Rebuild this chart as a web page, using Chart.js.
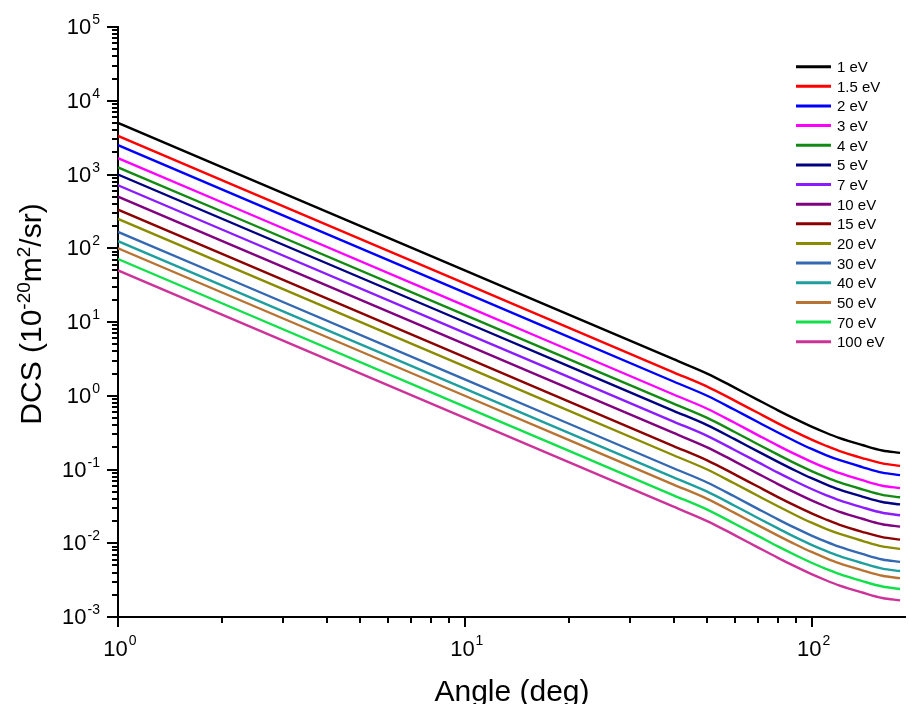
<!DOCTYPE html>
<html>
<head>
<meta charset="utf-8">
<title>DCS vs angle</title>
<script src="https://cdn.jsdelivr.net/npm/chart.js@4.4.1/dist/chart.umd.min.js"></script>
<style>
  html, body { margin: 0; padding: 0; background: #fff; overflow: hidden; }
  canvas { display: block; }
</style>
</head>
<body>
<canvas id="c" width="909" height="704"></canvas>
<script>
'use strict';

/* Scattering angles (deg) where the curves were read */
const angles = [1, 10, 40, 50, 60, 70, 80, 90, 100, 110, 120, 140, 160, 180];

/* DCS values (10^-20 m^2/sr), one list per impact energy */
const dcs1   = [5000, 50, 3.13, 2.0, 1.29, 0.88, 0.634, 0.481, 0.381, 0.315, 0.269, 0.215, 0.181, 0.168];
const dcs1_5 = [3330, 33.3, 2.08, 1.33, 0.86, 0.587, 0.423, 0.321, 0.254, 0.21, 0.179, 0.143, 0.121, 0.112];
const dcs2   = [2500, 25, 1.56, 1.0, 0.645, 0.44, 0.317, 0.24, 0.19, 0.157, 0.135, 0.108, 0.0905, 0.084];
const dcs3   = [1670, 16.7, 1.04, 0.667, 0.43, 0.293, 0.211, 0.16, 0.127, 0.105, 0.0897, 0.0717, 0.0603, 0.056];
const dcs4   = [1250, 12.5, 0.78, 0.5, 0.323, 0.22, 0.159, 0.12, 0.0953, 0.0788, 0.0673, 0.0538, 0.0453, 0.042];
const dcs5   = [1000, 10, 0.625, 0.4, 0.258, 0.176, 0.127, 0.0962, 0.0762, 0.063, 0.0538, 0.043, 0.0362, 0.0336];
const dcs7   = [714, 7.14, 0.447, 0.286, 0.184, 0.126, 0.0906, 0.0687, 0.0544, 0.045, 0.0384, 0.0307, 0.0259, 0.024];
const dcs10  = [500, 5, 0.313, 0.2, 0.129, 0.088, 0.0634, 0.0481, 0.0381, 0.0315, 0.0269, 0.0215, 0.0181, 0.0168];
const dcs15  = [333, 3.33, 0.208, 0.133, 0.086, 0.0587, 0.0423, 0.0321, 0.0254, 0.021, 0.0179, 0.0143, 0.0121, 0.0112];
const dcs20  = [250, 2.5, 0.156, 0.1, 0.0645, 0.044, 0.0317, 0.024, 0.019, 0.0157, 0.0135, 0.0108, 0.00905, 0.0084];
const dcs30  = [167, 1.67, 0.104, 0.0667, 0.043, 0.0293, 0.0211, 0.016, 0.0127, 0.0105, 0.00897, 0.00717, 0.00603, 0.0056];
const dcs40  = [125, 1.25, 0.078, 0.05, 0.0323, 0.022, 0.0159, 0.012, 0.00953, 0.00788, 0.00673, 0.00538, 0.00453, 0.0042];
const dcs50  = [100, 1.0, 0.0625, 0.04, 0.0258, 0.0176, 0.0127, 0.00962, 0.00762, 0.0063, 0.00538, 0.0043, 0.00362, 0.00336];
const dcs70  = [71.4, 0.714, 0.0447, 0.0286, 0.0184, 0.0126, 0.00906, 0.00687, 0.00544, 0.0045, 0.00384, 0.00307, 0.00259, 0.0024];
const dcs100 = [50, 0.5, 0.0313, 0.02, 0.0129, 0.0088, 0.00634, 0.00481, 0.00381, 0.00315, 0.00269, 0.00215, 0.00181, 0.00168];

const energyLabels = ['1 eV', '1.5 eV', '2 eV', '3 eV', '4 eV', '5 eV', '7 eV', '10 eV',
                      '15 eV', '20 eV', '30 eV', '40 eV', '50 eV', '70 eV', '100 eV'];
const energySeries = [dcs1, dcs1_5, dcs2, dcs3, dcs4, dcs5, dcs7, dcs10,
                      dcs15, dcs20, dcs30, dcs40, dcs50, dcs70, dcs100];

/* Tick labels: exponents of 10 */
const xTickExps = [0, 1, 2];
const yTickExps = [-3, -2, -1, 0, 1, 2, 3, 4, 5];

/* Line colours (Origin-like palette) */
const COLORS = ['#000000', '#ff0000', '#0000ff', '#ff00ff', '#138a13', '#000080', '#8a1cff', '#800080',
                '#8b0000', '#8b8b00', '#3468b0', '#1f9e9e', '#b87333', '#12e04a', '#cc3399'];

const FONT = '"Liberation Sans", Arial, sans-serif';

/* "10" with a raised exponent */
function drawPow(ctx, exp, x, y, align, size, supSize, raise) {
  ctx.font = `${size}px ${FONT}`;
  const w1 = ctx.measureText('10').width;
  ctx.font = `${supSize}px ${FONT}`;
  const w2 = ctx.measureText(String(exp)).width;
  const total = w1 + 1 + w2;
  const x0 = align === 'right' ? x - total : x - total / 2;
  ctx.textAlign = 'left';
  ctx.textBaseline = 'alphabetic';
  ctx.font = `${size}px ${FONT}`;
  ctx.fillText('10', x0, y);
  ctx.font = `${supSize}px ${FONT}`;
  ctx.fillText(String(exp), x0 + w1 + 1, y - raise);
}

/* Text made of normal / superscript pieces, centred on 0 */
function drawRich(ctx, parts, size, supSize, raise) {
  let total = 0;
  parts.forEach(p => {
    ctx.font = `${p.sup ? supSize : size}px ${FONT}`;
    p.w = ctx.measureText(p.t).width;
    total += p.w;
  });
  let x = -total / 2;
  ctx.textAlign = 'left';
  ctx.textBaseline = 'alphabetic';
  parts.forEach(p => {
    ctx.font = `${p.sup ? supSize : size}px ${FONT}`;
    ctx.fillText(p.t, x, p.sup ? -raise : 0);
    x += p.w;
  });
}

/* Log ticks, tick labels, axis titles and legend */
const decorPlugin = {
  id: 'decor',
  afterDraw(chart) {
    const { ctx, chartArea: a, scales: { x, y } } = chart;
    ctx.save();
    ctx.strokeStyle = '#000';
    ctx.fillStyle = '#000';
    ctx.lineWidth = 2;

    /* y ticks (outside, left) */
    ctx.beginPath();
    for (let e = yTickExps[0]; e <= yTickExps[yTickExps.length - 1]; e++) {
      for (let m = 1; m <= 9; m++) {
        if (e === yTickExps[yTickExps.length - 1] && m > 1) break;
        const py = Math.round(y.getPixelForValue(m * Math.pow(10, e)));
        const len = m === 1 ? 11 : 6;
        ctx.moveTo(a.left - len, py);
        ctx.lineTo(a.left, py);
      }
    }
    /* x ticks (outside, down) */
    for (let e = xTickExps[0]; e <= xTickExps[xTickExps.length - 1]; e++) {
      for (let m = 1; m <= 9; m++) {
        const v = m * Math.pow(10, e);
        if (v > x.max) break;
        const px = Math.round(x.getPixelForValue(v));
        const len = m === 1 ? 10 : 6;
        ctx.moveTo(px, a.bottom);
        ctx.lineTo(px, a.bottom + len);
      }
    }
    ctx.stroke();

    /* tick labels */
    yTickExps.forEach(e => {
      const py = y.getPixelForValue(Math.pow(10, e));
      drawPow(ctx, e, 100, py + 7, 'right', 22, 14, 10);
    });
    xTickExps.forEach(e => {
      const px = x.getPixelForValue(Math.pow(10, e));
      drawPow(ctx, e, px + 2, 656, 'center', 22, 14, 11);
    });

    /* axis titles */
    ctx.save();
    ctx.translate(512, 701);
    drawRich(ctx, [{ t: 'Angle (deg)' }], 30, 19, 10);
    ctx.restore();

    ctx.save();
    ctx.translate(41, 314);
    ctx.rotate(-Math.PI / 2);
    drawRich(ctx, [
      { t: 'DCS (10' }, { t: '-20', sup: true }, { t: 'm' }, { t: '2', sup: true }, { t: '/sr)' },
    ], 30, 19, 11);
    ctx.restore();

    /* legend */
    chart.data.datasets.forEach((ds, i) => {
      const ly = 66.7 + i * 19.64;
      ctx.strokeStyle = ds.borderColor;
      ctx.lineWidth = 3;
      ctx.beginPath();
      ctx.moveTo(796, ly);
      ctx.lineTo(831, ly);
      ctx.stroke();
      ctx.fillStyle = '#000';
      ctx.font = `15px ${FONT}`;
      ctx.textAlign = 'left';
      ctx.textBaseline = 'alphabetic';
      ctx.fillText(ds.label, 837, ly + 5.5);
    });

    ctx.restore();
  },
};

const datasets = energySeries.map((vals, i) => ({
  label: energyLabels[i],
  data: angles.map((a, k) => ({ x: a, y: vals[k] })),
  borderColor: COLORS[i],
  backgroundColor: COLORS[i],
  borderWidth: 2.4,
  pointRadius: 0,
  fill: false,
  cubicInterpolationMode: 'monotone',
}));

new Chart(document.getElementById('c'), {
  type: 'line',
  data: { datasets },
  options: {
    responsive: false,
    devicePixelRatio: 1,
    animation: false,
    layout: { padding: { top: 27, right: 4, left: 0, bottom: 0 } },
    plugins: {
      legend: { display: false },
      tooltip: { enabled: false },
    },
    scales: {
      x: {
        type: 'logarithmic',
        min: 1,
        max: 186,
        grid: { display: false },
        ticks: { display: false },
        border: { display: true, color: '#000', width: 2 },
        afterFit: s => { s.height = 87; },
      },
      y: {
        type: 'logarithmic',
        min: 1e-3,
        max: 1e5,
        grid: { display: false },
        ticks: { display: false },
        border: { display: true, color: '#000', width: 2 },
        afterFit: s => { s.width = 118; },
      },
    },
  },
  plugins: [decorPlugin],
});
</script>
</body>
</html>
